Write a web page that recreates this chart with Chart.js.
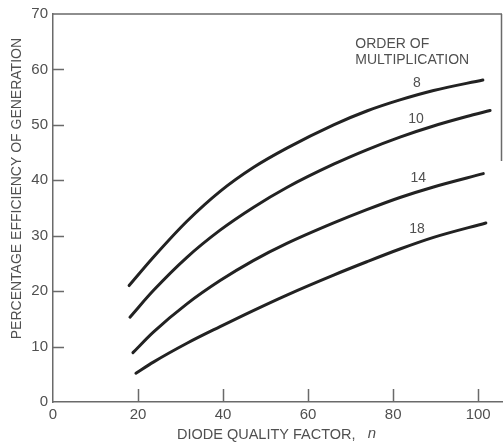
<!DOCTYPE html>
<html>
<head>
<meta charset="utf-8">
<script src="https://cdn.jsdelivr.net/npm/chart.js@4/dist/chart.umd.min.js"></script>
<style>
  html, body { margin: 0; padding: 0; background: #fff; }
  canvas { display: block; }
</style>
</head>
<body>
<canvas id="c" width="503" height="444"></canvas>
<script>
// Diode quality factor n (x) vs. percentage efficiency of generation (y),
// one curve per order of multiplication.
const order8X  = [17.9, 23.6, 31.5, 39.3, 47.1, 55.0, 66.0, 73.8, 81.6, 89.5, 101.1];
const order8Y  = [21.0, 26.1, 32.6, 38.0, 42.3, 45.8, 50.0, 52.5, 54.5, 56.2, 58.1];

const order10X = [18.1, 23.6, 31.5, 39.3, 47.1, 55.0, 66.0, 73.8, 81.6, 89.5, 97.3, 102.8];
const order10Y = [15.3, 20.1, 26.1, 31.0, 35.1, 38.7, 42.9, 45.5, 47.8, 49.8, 51.5, 52.6];

const order14X = [18.8, 23.6, 31.5, 39.3, 47.1, 55.0, 66.0, 73.8, 81.6, 89.5, 101.2];
const order14Y = [8.9, 12.6, 17.7, 21.9, 25.5, 28.6, 32.3, 34.7, 36.9, 38.8, 41.2];

const order18X = [19.5, 23.6, 31.5, 39.3, 47.1, 55.0, 66.0, 73.8, 81.6, 89.5, 101.8];
const order18Y = [5.2, 7.2, 10.6, 13.6, 16.5, 19.3, 22.9, 25.3, 27.6, 29.7, 32.3];

// Curve labels and where they sit (data coordinates)
const curveLabels = ['8', '10', '14', '18'];
const curveLabelX = [85.6, 85.4, 85.9, 85.6];
const curveLabelY = [57.5, 51.0, 40.4, 31.2];

const legendTitle = ['ORDER OF', 'MULTIPLICATION'];
const legendTitleX = 71.1;
const legendTitleY = [64.5, 61.6];

const xTicks = [0, 20, 40, 60, 80, 100];
const yTicks = [0, 10, 20, 30, 40, 50, 60, 70];

const xTitle = 'DIODE QUALITY FACTOR,';
const xTitleSymbol = 'n';
const yTitle = 'PERCENTAGE EFFICIENCY OF GENERATION';

const FONT = '"Liberation Sans", "DejaVu Sans", sans-serif';
const TEXT = '#505050';
const AXIS = '#6a6a6a';
const INK = '#222';

const pts = (xs, ys) => xs.map((x, i) => ({ x, y: ys[i] }));
const series = [pts(order8X, order8Y), pts(order10X, order10Y), pts(order14X, order14Y), pts(order18X, order18Y)];

// Inward tick marks, frame, axis titles and in-plot text
const decorations = {
  id: 'decorations',
  afterDraw(chart) {
    const { ctx, scales: { x, y } } = chart;
    const left = x.getPixelForValue(0);
    const bottom = y.getPixelForValue(0);
    const top = y.getPixelForValue(70);
    const right = chart.chartArea.right;
    ctx.save();
    ctx.strokeStyle = AXIS;
    ctx.lineWidth = 1.5;
    ctx.beginPath();
    yTicks.filter(v => v > 0 && v < 70).forEach(v => {
      const p = Math.round(y.getPixelForValue(v)) + 0.5;
      ctx.moveTo(left, p); ctx.lineTo(left + 11, p);
    });
    xTicks.filter(v => v > 0).forEach(v => {
      const p = Math.round(x.getPixelForValue(v)) + 0.5;
      ctx.moveTo(p, bottom); ctx.lineTo(p, bottom - 13);
    });
    // top edge and upper part of the right edge
    ctx.moveTo(left, top); ctx.lineTo(right, top);
    ctx.moveTo(right - 0.5, top); ctx.lineTo(right - 0.5, y.getPixelForValue(43.5));
    ctx.stroke();

    ctx.fillStyle = TEXT;
    ctx.textBaseline = 'middle';

    // vertical axis title, a little above the axis middle
    ctx.save();
    ctx.font = '14px ' + FONT;
    ctx.textAlign = 'center';
    ctx.translate(17.5, y.getPixelForValue(38.5));
    ctx.rotate(-Math.PI / 2);
    ctx.fillText(yTitle, 0, 0);
    ctx.restore();

    // horizontal axis title with an italic symbol
    const normalFont = '14.5px ' + FONT;
    const italicFont = 'italic 15px ' + FONT;
    ctx.font = normalFont;
    const w1 = ctx.measureText(xTitle + '   ').width;
    ctx.font = italicFont;
    const w2 = ctx.measureText(xTitleSymbol).width;
    const cx = (left + right) / 2 - 1;
    const ty = 435;
    let tx = cx - (w1 + w2) / 2;
    ctx.textAlign = 'left';
    ctx.font = normalFont;
    ctx.fillText(xTitle, tx, ty);
    ctx.font = italicFont;
    ctx.fillText(xTitleSymbol, tx + w1, ty - 1);

    ctx.font = '14px ' + FONT;
    legendTitle.forEach((t, i) => {
      ctx.fillText(t, x.getPixelForValue(legendTitleX), y.getPixelForValue(legendTitleY[i]));
    });
    ctx.textAlign = 'center';
    curveLabels.forEach((t, i) => {
      ctx.fillText(t, x.getPixelForValue(curveLabelX[i]), y.getPixelForValue(curveLabelY[i]));
    });
    ctx.restore();
  }
};

new Chart(document.getElementById('c'), {
  type: 'scatter',
  data: {
    datasets: series.map((d, i) => ({
      label: 'n = ' + curveLabels[i],
      data: d,
      showLine: true,
      borderColor: INK,
      borderWidth: 3,
      pointRadius: 0,
      cubicInterpolationMode: 'monotone',
      borderCapStyle: 'round',
      fill: false
    }))
  },
  options: {
    responsive: false,
    animation: false,
    layout: { padding: { top: 11, right: 1, left: 0, bottom: 0 } },
    plugins: { legend: { display: false }, tooltip: { enabled: false } },
    scales: {
      x: {
        type: 'linear',
        min: 0,
        max: 105.6,
        afterBuildTicks: s => { s.ticks = xTicks.map(v => ({ value: v })); },
        afterFit: s => { s.height = 42; },
        grid: { display: false, drawTicks: false },
        border: { display: true, color: AXIS, width: 1.5 },
        ticks: { color: TEXT, font: { family: FONT, size: 15 }, padding: 4, maxRotation: 0 },
        title: { display: false }
      },
      y: {
        type: 'linear',
        min: 0,
        max: 70,
        afterBuildTicks: s => { s.ticks = yTicks.map(v => ({ value: v })); },
        afterFit: s => { s.width = 53; },
        grid: { display: false, drawTicks: false },
        border: { display: true, color: AXIS, width: 1.5 },
        ticks: { color: TEXT, font: { family: FONT, size: 15 }, padding: 5 },
        title: { display: false }
      }
    }
  },
  plugins: [decorations]
});
</script>
</body>
</html>
